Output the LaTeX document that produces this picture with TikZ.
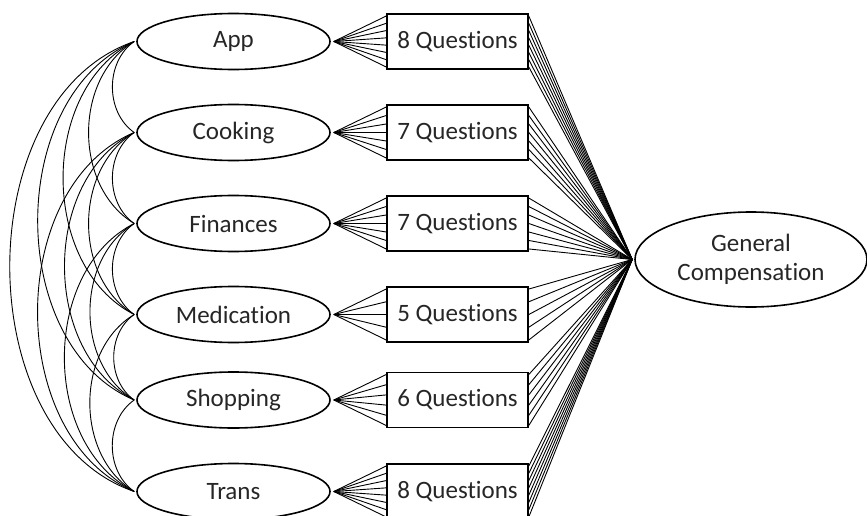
\documentclass[tikz,border=0pt]{standalone}
\usepackage{fontspec}
\setmainfont[Ligatures=NoCommon]{Carlito}
\usetikzlibrary{shapes.geometric,calc}
\begin{document}
\begin{tikzpicture}[x=1pt,y=-1pt,
  lat/.style={ellipse, draw, line width=1.6pt, minimum width=193pt, minimum height=56pt, inner sep=0pt, text=black!85, font=\fontsize{25}{29}\selectfont},
  qbox/.style={rectangle, draw, line width=1.6pt, minimum width=141pt, minimum height=55pt, inner sep=0pt, text=black!85, font=\fontsize{25}{29}\selectfont},
  fan/.style={line width=0.9pt},
  cor/.style={line width=0.9pt}]
\useasboundingbox (0,0) rectangle (867,516);
\clip (0,0) rectangle (867,516);
\foreach \nm/\lab/\yy/\n in {a/App/41.5/8, c/Cooking/132.5/7, f/Finances/223.5/7, m/Medication/314.5/5, s/Shopping/400/6, t/Trans/491.5/8} {
  \node[lat] (\nm) at (233.5,\yy) {\lab};
  \node[qbox] (\nm q) at (457.5,\yy) {\n\ Questions};
}
\node[lat, minimum width=232pt, minimum height=95pt, align=center] (gc) at (751,259.5) {General\\Compensation};
\coordinate (gcw) at ([xshift=-2pt]gc.west);
\foreach \nm/\n in {a/8, c/7, f/7, m/5, s/6, t/8} {
  \coordinate (\nm e) at ([xshift=3pt]\nm.east);
  \pgfmathsetmacro\last{\n-1}
  \foreach \k in {0,...,\last} {
    \pgfmathsetmacro\tt{0.05+0.9*\k/\last}
    \draw[fan] (\nm e) -- ($(\nm q.north west)!\tt!(\nm q.south west)$);
    \draw[fan] ($(\nm q.north east)!\tt!(\nm q.south east)$) -- (gcw);
  }
}
\foreach \i [count=\ii] in {a,c,f,m,s,t} {
  \foreach \j [count=\jj] in {a,c,f,m,s,t} {
    \ifnum\jj>\ii
      \pgfmathsetmacro\ang{51+4*(\jj-\ii)}
      \draw[cor] ([xshift=-2pt]\i.west) to[bend right=\ang] ([xshift=-2pt]\j.west);
    \fi
  }
}
\end{tikzpicture}
\end{document}
